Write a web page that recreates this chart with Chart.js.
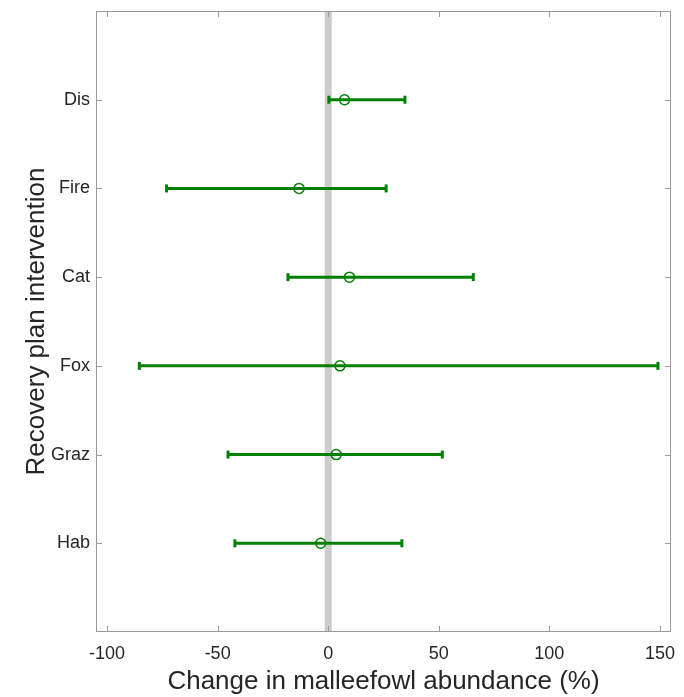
<!DOCTYPE html>
<html>
<head>
<meta charset="utf-8">
<script src="https://cdn.jsdelivr.net/npm/chart.js@4/dist/chart.umd.min.js"></script>
<style>
  html, body { margin: 0; padding: 0; background: #fff; }
  #chart { display: block; }
</style>
</head>
<body>
<canvas id="chart" width="684" height="697"></canvas>
<script>
// categories, top to bottom
const categories = ['Dis', 'Fire', 'Cat', 'Fox', 'Graz', 'Hab'];
// estimated change (%) and its interval
const estimates = [7.4, -13.2, 9.6, 5.3, 3.6, -3.4];
const lower = [0.3, -73.1, -18.2, -85.4, -45.3, -42.2];
const upper = [34.7, 26.2, 65.6, 149.1, 51.6, 33.3];
const xTicks = [-100, -50, 0, 50, 100, 150];

const GREEN = '#008000';
const AXIS = '#9a9a9a';
const TEXT = '#262626';
const FONT = "'Liberation Sans', Arial, sans-serif";

// error bars, one line dataset per category
const barSets = categories.map((c, i) => ({
  type: 'line',
  data: [{ x: lower[i], y: i + 1 }, { x: upper[i], y: i + 1 }],
  borderColor: GREEN,
  borderWidth: 3,
  pointStyle: 'line',
  rotation: 90,
  radius: 4,
  pointBorderWidth: 3,
  pointBorderColor: GREEN,
  order: 2
}));

// zero reference band
const zeroSet = {
  type: 'line',
  data: [{ x: 0, y: 0 }, { x: 0, y: categories.length + 1 }],
  borderColor: '#cccccc',
  borderWidth: 7,
  pointRadius: 0,
  order: 3
};

const pointSet = {
  type: 'scatter',
  data: estimates.map((v, i) => ({ x: v, y: i + 1 })),
  pointStyle: 'circle',
  radius: 5,
  borderWidth: 1.5,
  borderColor: GREEN,
  backgroundColor: 'rgba(0,0,0,0)',
  order: 1
};

// box and inward ticks, MATLAB style
const boxPlugin = {
  id: 'box',
  afterDraw(chart) {
    const { ctx, chartArea: a, scales: { x, y } } = chart;
    ctx.save();
    ctx.strokeStyle = AXIS;
    ctx.lineWidth = 1;
    ctx.strokeRect(a.left + 0.5, a.top + 0.5, a.right - a.left - 1, a.bottom - a.top - 1);
    ctx.beginPath();
    xTicks.forEach(t => {
      const px = Math.round(x.getPixelForValue(t)) + 0.5;
      ctx.moveTo(px, a.bottom); ctx.lineTo(px, a.bottom - 6);
      ctx.moveTo(px, a.top); ctx.lineTo(px, a.top + 6);
    });
    categories.forEach((c, i) => {
      const py = Math.round(y.getPixelForValue(i + 1)) + 0.5;
      ctx.moveTo(a.left, py); ctx.lineTo(a.left + 6, py);
      ctx.moveTo(a.right, py); ctx.lineTo(a.right - 6, py);
    });
    ctx.stroke();
    ctx.restore();
  }
};

new Chart(document.getElementById('chart'), {
  type: 'scatter',
  data: { datasets: [pointSet, ...barSets, zeroSet] },
  options: {
    responsive: false,
    animation: false,
    layout: { padding: { top: 11, right: 13, left: 0, bottom: 0 } },
    plugins: { legend: { display: false }, tooltip: { enabled: false } },
    scales: {
      x: {
        type: 'linear',
        min: -105,
        max: 155,
        afterBuildTicks: s => { s.ticks = xTicks.map(v => ({ value: v })); },
        afterFit: s => { s.height = 65; s.paddingLeft = 0; s.paddingRight = 0; },
        grid: { display: false, drawTicks: false },
        border: { display: false },
        ticks: { color: TEXT, font: { family: FONT, size: 18 }, padding: 11 },
        title: {
          display: true,
          text: 'Change in malleefowl abundance (%)',
          color: TEXT,
          font: { family: FONT, size: 26 },
          padding: { top: 0, bottom: 0 }
        }
      },
      y: {
        type: 'linear',
        reverse: true,
        min: 0,
        max: categories.length + 1,
        afterBuildTicks: s => { s.ticks = categories.map((c, i) => ({ value: i + 1 })); },
        afterFit: s => { s.width = 96; s.paddingTop = 0; s.paddingBottom = 0; },
        grid: { display: false, drawTicks: false },
        border: { display: false },
        ticks: {
          color: TEXT,
          font: { family: FONT, size: 18 },
          padding: 6,
          callback: v => categories[v - 1]
        },
        title: {
          display: true,
          text: 'Recovery plan intervention',
          color: TEXT,
          font: { family: FONT, size: 26 },
          padding: { top: 21, bottom: 0 }
        }
      }
    }
  },
  plugins: [boxPlugin]
});
</script>
</body>
</html>
